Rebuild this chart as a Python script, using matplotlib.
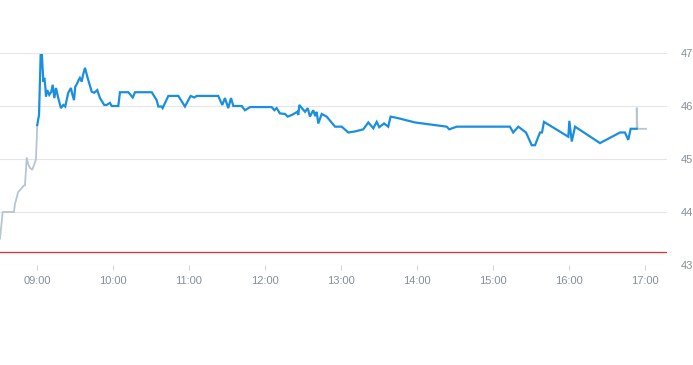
import matplotlib
matplotlib.use("Agg")
import matplotlib.pyplot as plt

# times are minutes after 09:00 (negative = pre-market), prices in currency units
pre_t = [-29.2, -27.1, -18.2, -17.4, -15.8, -15.0, -12.1, -10.3, -9.5, -8.1,
         -6.9, -5.5, -3.7, -2.1, -0.8, 0.2]
pre_p = [43.50, 44.00, 44.00, 44.15, 44.29, 44.37, 44.45, 44.50, 44.50, 45.02,
         44.90, 44.83, 44.80, 44.90, 45.00, 45.64]

day_t = [0.2, 1.6, 2.9, 3.9, 5.0, 5.8, 6.6, 7.1, 8.1, 9.7, 11.3, 12.4, 13.7, 15.0,
         16.8, 18.9, 20.8, 22.3, 24.7, 26.8, 27.6, 29.2, 30.2, 31.8, 32.9, 33.9,
         35.3, 36.3, 37.9, 40.0, 43.2, 45.2, 47.6, 49.7, 53.1, 55.0, 57.6, 59.0,
         64.2, 65.5, 72.1, 75.6, 77.4, 90.6, 94.5, 95.8, 98.4, 99.2, 103.7, 111.6,
         116.8, 121.3, 124.2, 126.1, 143.1, 146.3, 148.4, 151.0, 153.2, 155.0,
         161.6, 164.2, 168.2, 185.3, 187.4, 189.2, 191.8, 195.8, 197.9, 201.1,
         205.5, 206.3, 207.1, 211.6, 213.7, 215.5, 218.1, 219.7, 220.8, 222.1,
         224.8, 228.7, 235.3, 240.6, 245.8, 251.1, 257.6, 261.6, 265.5, 268.2,
         270.2, 274.0, 277.3, 279.2, 285.2, 298.4, 323.5, 325.5, 331.4, 373.4,
         376.0, 380.0, 386.1, 390.6, 393.2, 397.1, 398.7, 400.3, 419.5, 420.3,
         422.2, 424.8, 444.5, 460.3, 464.2, 466.8, 468.7, 473.5]
day_p = [45.64, 45.83, 46.96, 46.96, 46.46, 46.53, 46.36, 46.18, 46.30, 46.21,
         46.27, 46.40, 46.15, 46.34, 46.15, 45.96, 46.02, 45.99, 46.25, 46.34,
         46.25, 46.11, 46.36, 46.43, 46.49, 46.53, 46.46, 46.58, 46.72, 46.53,
         46.27, 46.25, 46.30, 46.15, 46.02, 46.02, 46.06, 46.00, 46.00, 46.26,
         46.26, 46.16, 46.26, 46.26, 46.11, 45.99, 45.99, 45.96, 46.19, 46.19,
         45.99, 46.19, 46.16, 46.19, 46.19, 46.02, 46.15, 45.96, 46.15, 46.00,
         46.00, 45.92, 45.98, 45.98, 45.92, 45.96, 45.86, 45.85, 45.80, 45.83,
         45.89, 45.83, 46.02, 45.89, 45.96, 45.80, 45.92, 45.81, 45.89, 45.67,
         45.85, 45.80, 45.61, 45.61, 45.50, 45.52, 45.56, 45.69, 45.58, 45.70,
         45.60, 45.67, 45.61, 45.80, 45.77, 45.69, 45.61, 45.56, 45.61, 45.61,
         45.50, 45.61, 45.50, 45.26, 45.26, 45.50, 45.50, 45.70, 45.42, 45.72,
         45.33, 45.61, 45.30, 45.50, 45.50, 45.36, 45.57, 45.57]

post_t = [473.5, 473.5, 474.1, 480.8]
post_p = [45.57, 45.96, 45.57, 45.57]

ref_price = 43.25

x_ticks = [0, 60, 120, 180, 240, 300, 360, 420, 480]
x_labels = ["09:00", "10:00", "11:00", "12:00", "13:00", "14:00", "15:00", "16:00", "17:00"]
y_ticks = [43, 44, 45, 46, 47]

W, H = 693, 365
fig = plt.figure(figsize=(W / 100, H / 100), dpi=100)
ax = fig.add_axes([0, 1 - 265 / H, 667 / W, 212 / H])

for y in y_ticks:
    ax.axhline(y, color="#e4e6e8", lw=0.8, zorder=0)
ax.axhline(ref_price, color="#d8332e", lw=0.9, zorder=1)

ax.plot(pre_t, pre_p, color="#b7c5cf", lw=1.3, zorder=2, clip_on=False)
ax.plot(post_t, post_p, color="#b7c5cf", lw=1.3, zorder=2, clip_on=False)
ax.plot(day_t, day_p, color="#1a8fe0", lw=1.6, zorder=3, clip_on=False,
        solid_joinstyle="miter")

ax.set_xlim(-29.2, 497.4)
ax.set_ylim(43, 47)
for s in ax.spines.values():
    s.set_visible(False)

ax.set_xticks(x_ticks)
ax.set_xticklabels(x_labels)
ax.set_yticks(y_ticks)
ax.yaxis.tick_right()
ax.tick_params(axis="x", length=3.6, width=0.7, color="#cfd3d6", pad=4,
               labelsize=8, labelcolor="#858e96")
ax.tick_params(axis="y", length=0, pad=10, labelsize=8, labelcolor="#858e96")
for lab in ax.get_xticklabels() + ax.get_yticklabels():
    lab.set_fontfamily("Liberation Sans")

fig.savefig("out.png", dpi=100)
